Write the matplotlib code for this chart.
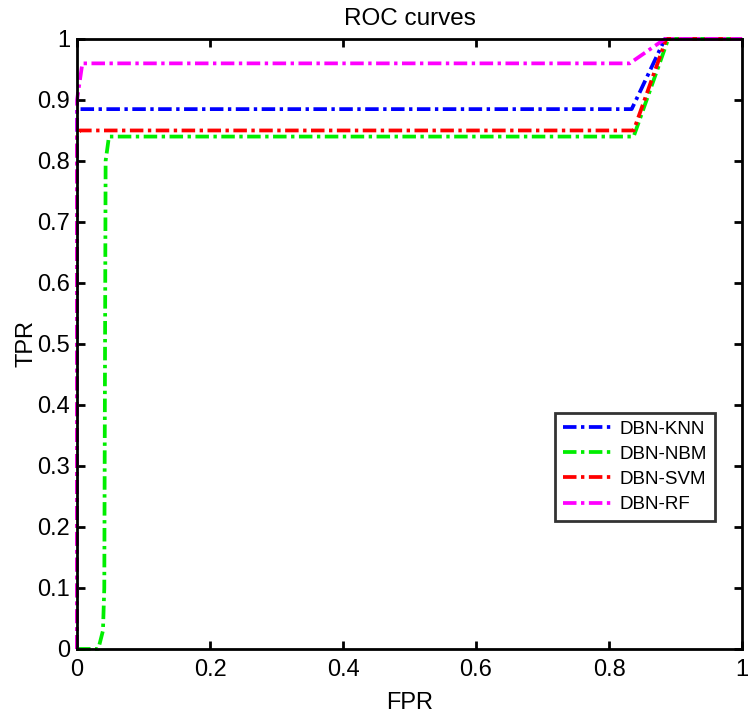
import matplotlib
matplotlib.use("Agg")
import matplotlib.pyplot as plt

plt.rcParams['font.family'] = ['Liberation Sans', 'DejaVu Sans']

labels = ["DBN-KNN", "DBN-NBM", "DBN-SVM", "DBN-RF"]
colors = ["#0000ff", "#00ee00", "#ff0000", "#ff00ff"]

knn_fpr = [0, 0, 0.834, 0.845, 0.884, 1]
knn_tpr = [0, 0.885, 0.885, 0.91, 1, 1]

nbm_fpr = [0, 0.032, 0.039, 0.041, 0.043, 0.048, 0.837, 0.889, 1]
nbm_tpr = [0, 0, 0.03, 0.1, 0.8, 0.84, 0.84, 1, 1]

svm_fpr = [0, 0, 0.004, 0.837, 0.886, 1]
svm_tpr = [0, 0.84, 0.85, 0.85, 1, 1]

rf_fpr = [0, 0, 0.008, 0.831, 0.884, 1]
rf_tpr = [0, 0.9, 0.96, 0.96, 1, 1]

xticks = [0, 0.2, 0.4, 0.6, 0.8, 1]
yticks = [0, 0.1, 0.2, 0.3, 0.4, 0.5, 0.6, 0.7, 0.8, 0.9, 1]
xticklabels = ["0", "0.2", "0.4", "0.6", "0.8", "1"]
yticklabels = ["0", "0.1", "0.2", "0.3", "0.4", "0.5", "0.6", "0.7", "0.8", "0.9", "1"]

fig = plt.figure(figsize=(7.5, 7.19), dpi=100)
ax = fig.add_axes([0.1027, 0.0974, 0.8867, 0.8484])

dash = (0, (3.6, 1.2, 0.9, 1.2))
series = [(knn_fpr, knn_tpr), (nbm_fpr, nbm_tpr), (svm_fpr, svm_tpr), (rf_fpr, rf_tpr)]
for (fx, ty), lab, c in zip(series, labels, colors):
    ax.plot(fx, ty, color=c, lw=2.7, linestyle=dash, label=lab, clip_on=False)

ax.set_xlim(0, 1)
ax.set_ylim(0, 1)
ax.set_xticks(xticks)
ax.set_xticklabels(xticklabels)
ax.set_yticks(yticks)
ax.set_yticklabels(yticklabels)
ax.tick_params(direction='in', length=6, width=2, top=True, right=True,
               labelsize=17, colors='black')
ax.tick_params(axis='x', pad=7)
ax.tick_params(axis='y', pad=5)
for s in ax.spines.values():
    s.set_linewidth(2.0)
    s.set_color('black')

ax.set_title("ROC curves", fontsize=17.5, pad=10)
ax.set_xlabel("FPR", fontsize=17, labelpad=8)
ax.set_ylabel("TPR", fontsize=17, labelpad=0)

leg = ax.legend(loc='upper right', bbox_to_anchor=(0.959, 0.387), fontsize=13.5,
                frameon=True, fancybox=False, edgecolor='black', handlelength=2.7,
                borderpad=0.4, labelspacing=0.43, handletextpad=0.35, borderaxespad=0)
leg.get_frame().set_linewidth(2.0)

fig.savefig("out.png", dpi=100, facecolor='white')
